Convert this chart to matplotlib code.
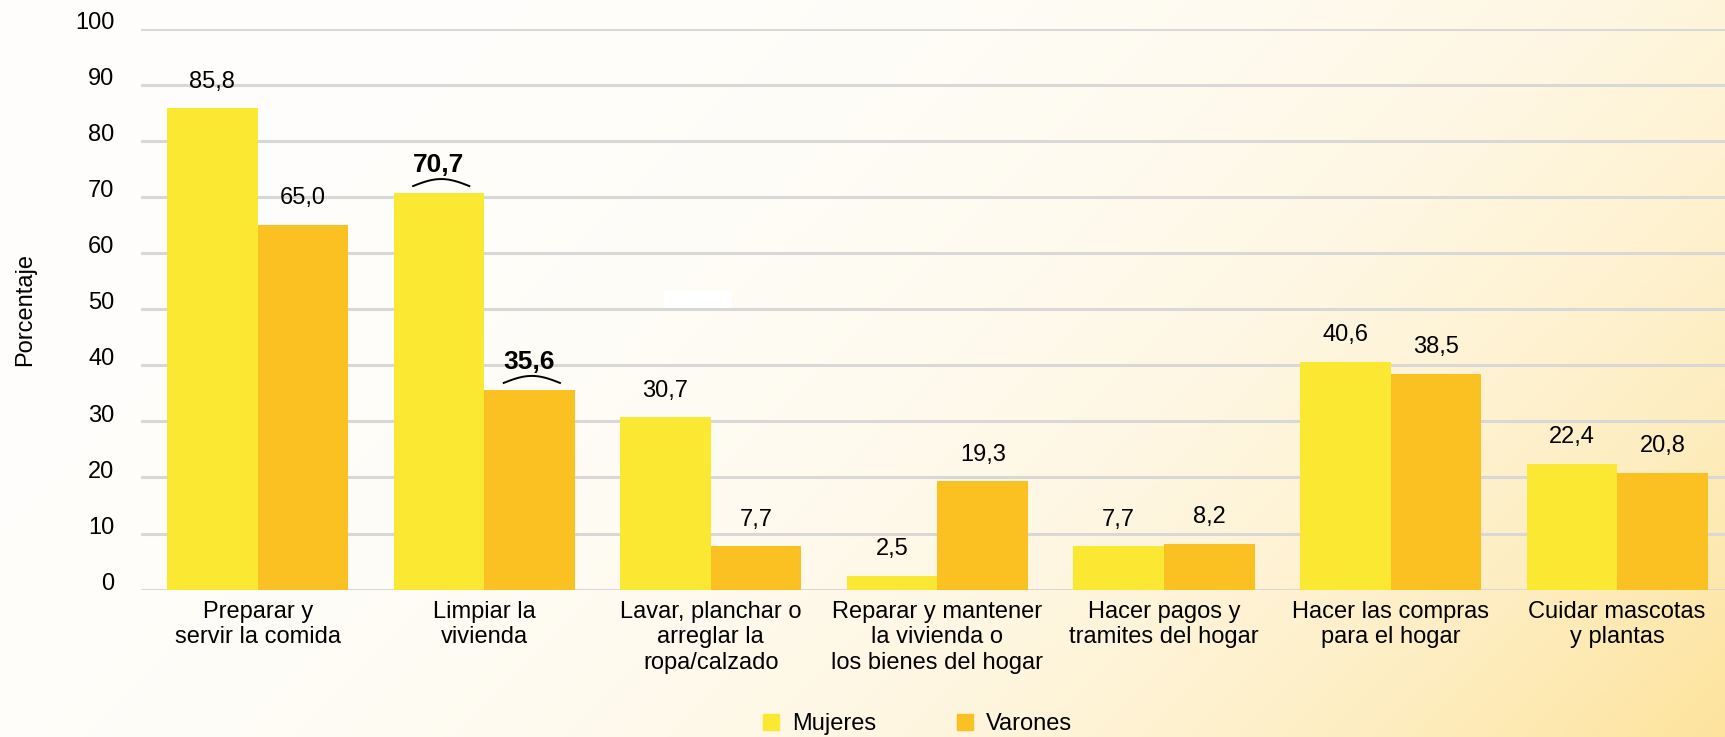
import numpy as np
import matplotlib
matplotlib.use("Agg")
import matplotlib.pyplot as plt
import matplotlib.transforms as mtransforms
from matplotlib.patches import Patch, Rectangle

plt.rcParams['font.family'] = ['Liberation Sans', 'DejaVu Sans']

# data
categories = [
    "Preparar y\nservir la comida",
    "Limpiar la\nvivienda",
    "Lavar, planchar o\narreglar la\nropa/calzado",
    "Reparar y mantener\nla vivienda o\nlos bienes del hogar",
    "Hacer pagos y\ntramites del hogar",
    "Hacer las compras\npara el hogar",
    "Cuidar mascotas\ny plantas",
]
mujeres = [85.8, 70.7, 30.7, 2.5, 7.7, 40.6, 22.4]
varones = [65.0, 35.6, 7.7, 19.3, 8.2, 38.5, 20.8]
# values shown in bold with an arc underneath
highlight_mujeres = [False, True, False, False, False, False, False]
highlight_varones = [False, True, False, False, False, False, False]
yticks = [0, 10, 20, 30, 40, 50, 60, 70, 80, 90, 100]

c_muj = '#fae832'
c_var = '#fbc123'
grid_c = '#d9d8d6'

fig = plt.figure(figsize=(17.25, 7.37), dpi=100)

# background gradient, white top-left to warm yellow bottom-right
bg = fig.add_axes([0, 0, 1, 1], zorder=-10)
gx, gy = np.meshgrid(np.linspace(0, 1, 400), np.linspace(0, 1, 200))
t = (0.7 * gx + 0.3 * gy) ** 3
c0 = np.array([255, 254, 252]) / 255
c1 = np.array([253, 227, 156]) / 255
img = c0[None, None, :] + t[:, :, None] * (c1 - c0)[None, None, :]
bg.imshow(img, aspect='auto', extent=[0, 1, 1, 0], interpolation='bilinear')
bg.set_xlim(0, 1)
bg.set_ylim(1, 0)
bg.axis('off')

ax = fig.add_axes([141 / 1725, 0.2, 1 - 141 / 1725, 0.761])
ax.set_facecolor('none')

x = np.arange(len(categories))
w = 0.4
ax.bar(x - w / 2, mujeres, w, color=c_muj, zorder=3, label='Mujeres')
ax.bar(x + w / 2, varones, w, color=c_var, zorder=3, label='Varones')

ax.set_xlim(-0.515, 6.476)
ax.set_ylim(0, 100)
ax.set_yticks(yticks)
ax.set_yticklabels([str(v) for v in yticks], fontsize=17)
ax.yaxis.grid(True, color=grid_c, linewidth=2.2, zorder=0)
ax.set_axisbelow(True)
for s in ax.spines.values():
    s.set_visible(False)
ax.tick_params(axis='y', length=0, pad=19)
ax.tick_params(axis='x', length=0, pad=8)
ax.set_xticks(x)
ax.set_xticklabels(categories, fontsize=17, linespacing=1.2, va='top')

# y tick labels sit a bit above their grid lines
off = mtransforms.ScaledTranslation(0, 6 / 72, fig.dpi_scale_trans)
for lab in ax.get_yticklabels():
    lab.set_transform(lab.get_transform() + off)

ax.set_ylabel('Porcentaje', fontsize=17)
ax.yaxis.set_label_coords(-0.066, 0.5)


def label_bars(xs, vals, hl):
    for xi, v, h in zip(xs, vals, hl):
        txt = f"{v:.1f}".replace('.', ',')
        if h:
            ax.annotate(txt, (xi, v), xytext=(0, 15), textcoords='offset points',
                        ha='center', va='baseline', fontsize=19, fontweight='bold')
            tt = np.linspace(-1, 1, 40)
            ax.plot(xi + 0.01 + 0.124 * tt, v + 1.25 + 1.25 * np.cos(tt * np.pi / 2),
                    color='black', lw=1.4, zorder=4)
        else:
            ax.annotate(txt, (xi, v), xytext=(0, 15), textcoords='offset points',
                        ha='center', va='baseline', fontsize=17)


label_bars(x - w / 2, mujeres, highlight_mujeres)
label_bars(x + w / 2, varones, highlight_varones)

# small white artifact present in the source image
fig.patches.append(Rectangle((0.385, 0.582), 0.0394, 0.023, transform=fig.transFigure,
                             facecolor='white', edgecolor='none', zorder=5))

handles = [Patch(color=c_muj), Patch(color=c_var)]
fig.legend(handles, ['Mujeres', 'Varones'], loc='center', bbox_to_anchor=(0.532, 0.017),
           ncol=2, frameon=False, fontsize=17, handlelength=0.68, handleheight=0.68,
           handletextpad=0.55, columnspacing=3.4, borderpad=0)

fig.savefig('out.png', dpi=100)
